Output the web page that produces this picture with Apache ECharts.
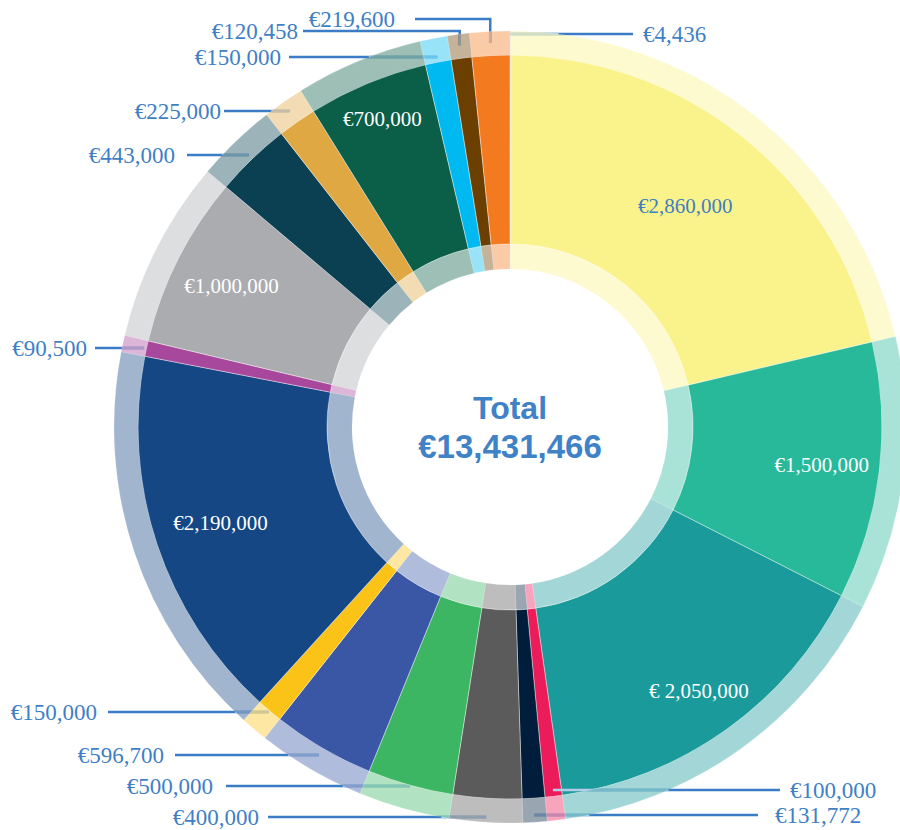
<!DOCTYPE html>
<html>
<head>
<meta charset="utf-8">
<script src="https://cdn.jsdelivr.net/npm/echarts@6/dist/echarts.min.js"></script>
<style>
html,body{margin:0;padding:0;background:#ffffff;}
#chart{width:900px;height:830px;}
</style>
</head>
<body>
<div id="chart"></div>
<script>
// ---------------- data ----------------
const values = [4436, 2860000, 1500000, 2050000, 100000, 131772, 400000, 500000, 596700, 150000, 2190000, 90500, 1000000, 443000, 225000, 700000, 150000, 120458, 219600];
const sliceColors = ['#C9B79C', '#FAF28A', '#27B99A', '#1A9A9B', '#EC1C5B', '#001D3B', '#5B5B5B', '#3DB664', '#3A57A5', '#FBC218', '#144784', '#A8489C', '#ABACAF', '#0B4052', '#E0A843', '#0B5E48', '#00B9F0', '#6B3F00', '#F47A20'];
const insideLabelIdx = [1, 2, 3, 10, 12, 15];
const spacedCurrencyIdx = [3];
const totalCaption = 'Total';

// ---------------- layout / style ----------------
const CX = 510, CY = 427;
const R_HOLE = 158, R_INNER = 183, R_MAIN = 372, R_OUTER = 396;
const RING_OPACITY = 0.4;
const LABEL_BLUE = '#3F7FC6';
const LINE_DARK = '#3B7CC6';
const LINE_PALE = '#B3CDE8';
const insideLabelRadius = {1: 282, 2: 314, 3: 325, 10: 305, 12: 312, 15: 333};
const outsideLabelPos = {
  0:  {y: 34,  lineEnd: 633, textX: 643, rMax: 394},
  4:  {y: 790, lineEnd: 780, textX: 790},
  5:  {y: 815, lineEnd: 758, textX: 775},
  6:  {y: 817, lineEnd: 268, textX: 259},
  7:  {y: 786, lineEnd: 226, textX: 213},
  8:  {y: 755, lineEnd: 175, textX: 164},
  9:  {y: 712, lineEnd: 108, textX: 97},
  11: {y: 348, lineEnd: 95,  textX: 87},
  13: {y: 155, lineEnd: 187, textX: 175},
  14: {y: 111, lineEnd: 224, textX: 221},
  16: {y: 57,  lineEnd: 289, textX: 281},
  17: {y: 31,  lineEnd: 303, textX: 298, rMax: 385},
  18: {y: 19,  lineEnd: 415, textX: 395, rMax: 385}
};

function fmt(i) {
  return (spacedCurrencyIdx.indexOf(i) >= 0 ? '€ ' : '€') + values[i].toLocaleString('en-US');
}

function outsidePath(i, p0) {
  const L = outsideLabelPos[i];
  const dx = p0[0] - CX, dy = p0[1] - CY;
  const len = Math.hypot(dx, dy) || 1;
  const ux = dx / len, uy = dy / len;
  const rMin = L.rMin || 355, rMax = L.rMax || 394;
  let r = Math.abs(uy) > 1e-6 ? (L.y - CY) / uy : Infinity;
  if (r >= rMin && r <= rMax) {
    return [[CX + ux * r, L.y], [L.lineEnd, L.y]];
  }
  r = (isFinite(r) && r < rMin) ? rMin : rMax;
  const ax = CX + ux * r, ay = CY + uy * r;
  return [[ax, ay], [ax, L.y], [L.lineEnd, L.y]];
}

function clipToCircle(pts, R) {
  const out = [pts[0]];
  for (let k = 1; k < pts.length; k++) {
    const a = pts[k - 1], b = pts[k];
    if (Math.hypot(b[0] - CX, b[1] - CY) <= R) { out.push(b); continue; }
    const dx = b[0] - a[0], dy = b[1] - a[1];
    const fx = a[0] - CX, fy = a[1] - CY;
    const A = dx * dx + dy * dy, B = 2 * (fx * dx + fy * dy), C = fx * fx + fy * fy - R * R;
    const disc = Math.max(0, B * B - 4 * A * C);
    const t = (-B + Math.sqrt(disc)) / (2 * A);
    out.push([a[0] + t * dx, a[1] + t * dy]);
    break;
  }
  return out;
}

const total = values.reduce((s, v) => s + v, 0);

const mainData = values.map((v, i) => {
  const inside = insideLabelIdx.indexOf(i) >= 0;
  return {
    value: v,
    itemStyle: {color: sliceColors[i]},
    label: inside
      ? {show: true, position: 'inside', color: i === 1 ? LABEL_BLUE : '#ffffff', fontSize: 21}
      : {show: true, position: 'outside', color: LABEL_BLUE, fontSize: 23},
    labelLine: {show: !inside}
  };
});

const ringData = values.map((v, i) => {
  const hasOut = outsideLabelPos[i] != null;
  return {
    value: v,
    itemStyle: {color: sliceColors[i], opacity: RING_OPACITY},
    label: {show: hasOut, position: 'outside', color: 'rgba(0,0,0,0)'},
    labelLine: {show: hasOut}
  };
});

const innerData = values.map((v, i) => ({
  value: v,
  itemStyle: {color: sliceColors[i], opacity: RING_OPACITY}
}));

const chart = echarts.init(document.getElementById('chart'), null, {renderer: 'svg'});
chart.setOption({
  animation: false,
  backgroundColor: '#ffffff',
  graphic: [
    {type: 'text', x: CX, y: 408, z: 10,
     style: {text: totalCaption, fill: '#3F82C8', font: 'bold 32px Liberation Sans', align: 'center', verticalAlign: 'middle'}},
    {type: 'text', x: CX, y: 446, z: 10,
     style: {text: '€' + total.toLocaleString('en-US'), fill: '#3F82C8', font: 'bold 33px Liberation Sans', align: 'center', verticalAlign: 'middle'}}
  ],
  series: [
    {
      type: 'pie', z: 1, silent: true,
      center: [CX, CY], radius: [R_HOLE, R_INNER],
      startAngle: 90, clockwise: true,
      label: {show: false}, labelLine: {show: false},
      itemStyle: {borderColor: '#ffffff', borderWidth: 0.4},
      emphasis: {disabled: true},
      data: innerData
    },
    {
      type: 'pie', z: 2, silent: true,
      center: [CX, CY], radius: [R_INNER, R_MAIN],
      startAngle: 90, clockwise: true,
      avoidLabelOverlap: false,
      itemStyle: {borderColor: '#ffffff', borderWidth: 0.4},
      label: {fontFamily: 'Liberation Serif', fontSize: 21, overflow: 'none', formatter: function (p) { return fmt(p.dataIndex); }},
      labelLine: {lineStyle: {color: LINE_DARK, width: 2.5}, length: 10, length2: 10},
      emphasis: {disabled: true},
      labelLayout: function (p) {
        const i = p.dataIndex;
        if (insideLabelRadius[i] != null) {
          const rc = p.labelRect;
          const lx = rc.x + rc.width / 2, ly = rc.y + rc.height / 2;
          const a = Math.atan2(ly - CY, lx - CX);
          const R = insideLabelRadius[i];
          return {x: CX + R * Math.cos(a), y: CY + R * Math.sin(a), align: 'center', verticalAlign: 'middle'};
        }
        const L = outsideLabelPos[i];
        if (!L || !p.labelLinePoints) return {};
        const pts = outsidePath(i, p.labelLinePoints[0]);
        const left = L.lineEnd < pts[0][0];
        return {x: L.textX, y: L.y, align: left ? 'right' : 'left', verticalAlign: 'middle', labelLinePoints: pts};
      },
      data: mainData
    },
    {
      type: 'pie', z: 3, silent: true,
      center: [CX, CY], radius: [R_MAIN, R_OUTER],
      startAngle: 90, clockwise: true,
      avoidLabelOverlap: false,
      itemStyle: {borderColor: '#ffffff', borderWidth: 0.4},
      label: {fontFamily: 'Liberation Serif', fontSize: 23, formatter: function (p) { return fmt(p.dataIndex); }},
      labelLine: {lineStyle: {color: LINE_PALE, width: 2.5}, length: 10, length2: 10},
      emphasis: {disabled: true},
      labelLayout: function (p) {
        const i = p.dataIndex;
        const L = outsideLabelPos[i];
        if (!L || !p.labelLinePoints) return {};
        const pts = clipToCircle(outsidePath(i, p.labelLinePoints[0]), R_OUTER);
        return {x: L.textX, y: L.y, labelLinePoints: pts};
      },
      data: ringData
    }
  ]
});
</script>
</body>
</html>
